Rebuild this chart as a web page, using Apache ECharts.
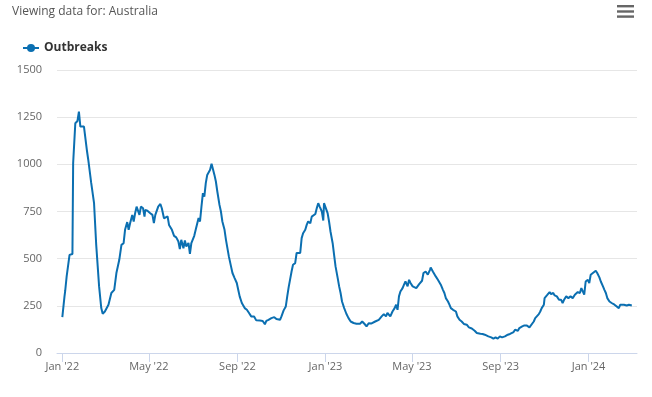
<!DOCTYPE html>
<html>
<head>
<meta charset="utf-8">
<script src="https://cdn.jsdelivr.net/npm/echarts@6/dist/echarts.min.js"></script>
<style>
html,body{margin:0;padding:0;background:#fff;}
#chart{width:652px;height:397px;}
</style>
</head>
<body>
<div id="chart"></div>
<script>
// Days since 2022-01-01 for each sample
const sampleDays = [0,2,3,4,6,8,10,14,15,17,18,20,21,23,25,30,34,36,40,42,44,47,49,51,54,56,59,64,68,72,75,79,82,85,87,90,92,94,97,99,101,103,105,107,109,112,114,115,118,122,125,127,129,133,136,138,140,141,143,146,148,152,155,158,161,163,165,168,170,172,175,177,179,183,185,189,191,193,195,197,199,201,203,205,207,208,211,213,215,218,220,222,225,227,229,231,234,236,239,242,244,246,249,251,253,256,259,262,266,269,274,278,281,283,286,290,294,297,302,304,307,310,312,314,316,318,320,323,325,327,330,332,334,337,339,341,344,346,348,351,353,355,357,360,362,363,365,368,370,372,375,377,379,382,384,386,388,391,394,397,400,404,408,413,416,419,422,425,429,434,439,443,446,449,451,455,458,461,463,465,467,469,472,474,476,479,481,483,486,488,491,493,495,499,501,504,507,510,511,514,516,518,521,523,525,528,530,532,535,537,539,542,546,548,551,554,557,561,564,568,572,575,580,583,586,591,595,598,601,604,607,610,614,618,621,626,628,632,634,638,641,644,648,650,654,656,658,661,663,665,668,669,671,673,676,678,681,683,686,689,692,694,696,699,702,705,708,711,713,715,718,720,722,724,726,729,731,733,736,738,740,742,745,747,750,752,754,756,759,762,766,768,772,774,776,779,781,783,786,790];
const outbreaks = [190,190,300,330,406,410,520,525,1006,1010,1218,1227,1230,1279,1200,1200,1076,1023,903,895,794,573,565,353,238,208,220,256,318,335,424,494,573,582,653,694,653,688,732,697,741,776,767,732,776,767,723,758,754,741,732,688,732,776,790,767,759,714,715,724,679,653,621,613,591,551,600,555,597,565,583,526,583,621,653,715,697,776,847,829,900,944,940,971,1003,989,944,909,856,785,750,697,653,600,556,512,459,424,397,371,335,300,265,260,238,229,212,194,194,173,172,170,152,170,176,185,190,180,176,194,226,247,300,349,353,432,468,476,530,538,530,609,635,653,679,697,688,723,732,737,768,794,776,750,702,794,785,741,697,644,582,520,459,397,353,318,273,238,208,185,167,159,155,155,167,155,141,158,157,167,176,194,206,194,212,194,220,238,256,229,300,326,344,362,379,353,388,371,353,362,344,335,365,383,424,432,415,441,453,432,436,406,388,393,362,335,318,291,273,256,238,229,220,194,176,167,154,150,136,130,118,106,102,101,97,88,83,76,83,76,88,83,88,97,101,111,123,118,132,141,146,146,136,146,167,185,194,206,220,238,256,291,300,309,323,312,318,305,300,282,282,265,282,300,291,300,291,309,300,323,318,344,335,309,379,388,371,415,424,415,436,424,401,379,353,335,318,291,273,265,256,247,238,256,265,256,265,252,256,252];
const tickDates = ['2022-01-01','2022-05-01','2022-09-01','2023-01-01','2023-05-01','2023-09-01','2024-01-01'];
const tickLabels = ["Jan '22","May '22","Sep '22","Jan '23","May '23","Sep '23","Jan '24"];
const seriesName = 'Outbreaks';
const titleText = 'Viewing data for: Australia';

const DAY = 86400000;
const START = Date.UTC(2022, 0, 1);
const tickTimes = tickDates.map(s => Date.parse(s + 'T00:00:00Z'));
const seriesData = sampleDays.map((d, i) => [START + d * DAY, outbreaks[i]]);

const FONT = '"Open Sans", "DejaVu Sans", sans-serif';
const chart = echarts.init(document.getElementById('chart'), null, {renderer: 'canvas'});
chart.setOption({
  animation: false,
  backgroundColor: '#ffffff',
  title: {
    text: titleText, left: 7, top: 1,
    textStyle: {fontFamily: FONT, fontSize: 12, fontWeight: 'normal', color: '#555555'}
  },
  legend: {
    left: 17, top: 37, itemWidth: 16, itemHeight: 10, itemGap: 10,
    textStyle: {fontFamily: FONT, fontSize: 12, fontWeight: 'bold', color: '#333333'},
    data: [seriesName]
  },
  grid: {left: 57, right: 15, top: 70, bottom: 44, containLabel: false},
  xAxis: {
    type: 'value',
    min: START - 7.4 * DAY,
    max: START + 797.2 * DAY,
    axisLine: {show: true, lineStyle: {color: '#ccd6eb', width: 1}},
    axisTick: {show: true, length: 9, lineStyle: {color: '#ccd6eb'}, customValues: tickTimes},
    splitLine: {show: false},
    axisLabel: {
      customValues: tickTimes,
      margin: 8,
      fontFamily: FONT, fontSize: 11, color: '#666666',
      formatter: function (v) {
        let best = -1, bd = Infinity;
        tickTimes.forEach((t, i) => { const d = Math.abs(t - v); if (d < bd) { bd = d; best = i; } });
        return bd < DAY ? tickLabels[best] : '';
      }
    }
  },
  yAxis: {
    type: 'value', min: 0, max: 1500, interval: 250,
    axisLine: {show: false}, axisTick: {show: false},
    splitLine: {lineStyle: {color: '#e6e6e6', width: 1}},
    axisLabel: {margin: 15, fontFamily: FONT, fontSize: 11, color: '#666666',
      formatter: function (v) { return String(v); }}
  },
  graphic: [
    {type: 'rect', shape: {x: 617, y: 5, width: 17, height: 2.4}, style: {fill: '#666666'}},
    {type: 'rect', shape: {x: 617, y: 10.3, width: 17, height: 2.4}, style: {fill: '#666666'}},
    {type: 'rect', shape: {x: 617, y: 15.4, width: 17, height: 2.4}, style: {fill: '#666666'}}
  ],
  series: [{
    name: seriesName,
    type: 'line',
    data: seriesData,
    showSymbol: false,
    symbol: 'circle',
    symbolSize: 8,
    color: '#0b6fb1',
    lineStyle: {width: 2, color: '#0b6fb1'},
    itemStyle: {color: '#0b6fb1'}
  }]
});
</script>
</body>
</html>
